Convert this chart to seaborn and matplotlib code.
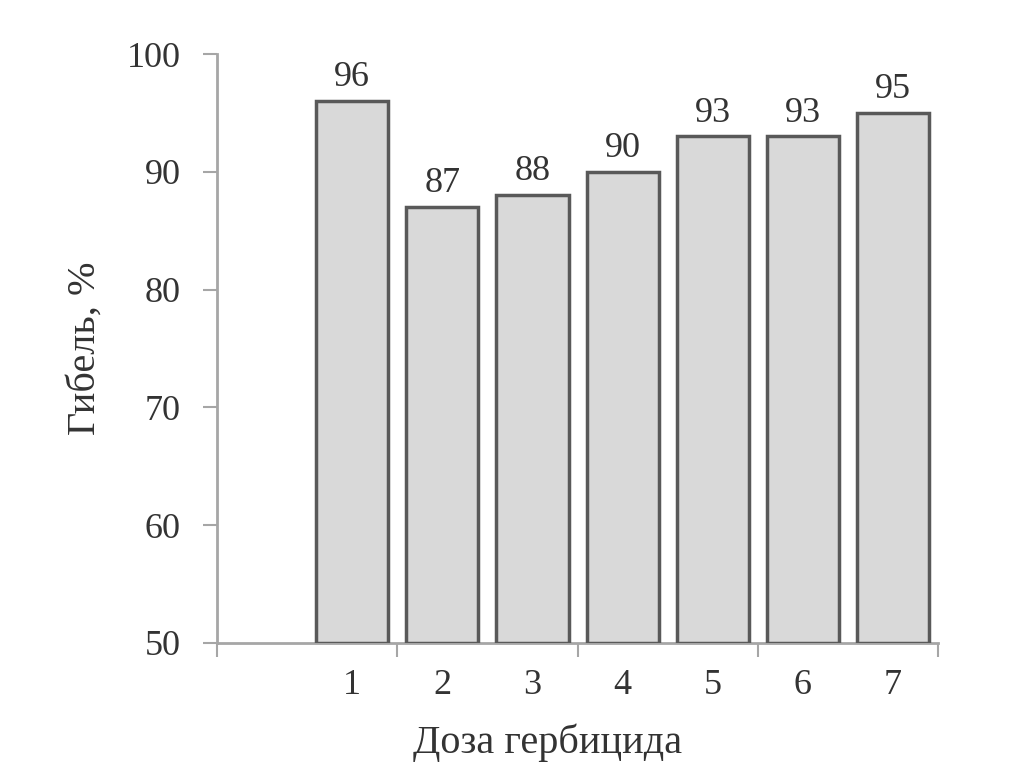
import seaborn as sns
import matplotlib.pyplot as plt
import pandas as pd

# data
doses = ["1", "2", "3", "4", "5", "6", "7"]
mortality = [96, 87, 88, 90, 93, 93, 95]
slots = ["0"] + doses  # first slot on the axis is empty

df = pd.DataFrame({"dose": doses, "mortality": mortality})

sns.set_theme(style="white")
plt.rcParams["font.family"] = ["Liberation Serif", "DejaVu Serif"]
text_color = "#333333"
axis_color = "#a6a6a6"

fig = plt.figure(figsize=(10.1, 7.83), dpi=100)
ax = fig.add_axes([0.2149, 0.1788, 0.7138, 0.7522])

sns.barplot(data=df, x="dose", y="mortality", order=slots,
            color="#d9d9d9", saturation=1, width=0.8,
            edgecolor="#595959", linewidth=2.5, ax=ax)

# bars start from the bottom of the axis (50)
for p in ax.patches:
    h = p.get_height()
    p.set_y(50)
    p.set_height(h - 50)

ax.set_ylim(50, 100)
ax.set_xlim(-0.5, len(slots) - 0.5)
ax.set_yticks([50, 60, 70, 80, 90, 100])

for c in ax.containers:
    ax.bar_label(c, labels=[str(v) for v in mortality], padding=5,
                 fontsize=26, color=text_color)

# category labels without tick marks, boundary ticks every two slots
ax.set_xticks(range(1, len(slots)))
ax.set_xticklabels(doses)
ax.set_xticks([-0.5, 1.5, 3.5, 5.5, 7.5], minor=True)
ax.tick_params(axis="x", which="major", length=0, pad=19,
               labelsize=26, labelcolor=text_color)
ax.tick_params(axis="x", which="minor", length=10, width=1.5,
               color=axis_color, bottom=True)
ax.tick_params(axis="y", length=10, width=1.5, color=axis_color, left=True,
               pad=16, labelsize=26, labelcolor=text_color)

sns.despine(ax=ax)
for side in ["left", "bottom"]:
    ax.spines[side].set_color(axis_color)
    ax.spines[side].set_linewidth(2)
    ax.spines[side].set_zorder(0)

ax.set_xlabel("Доза гербицида", fontsize=29, color=text_color)
ax.set_ylabel("Гибель, %", fontsize=29, color=text_color, labelpad=17)
ax.xaxis.set_label_coords(0.458, -0.137)

fig.savefig("out.png", dpi=100)
